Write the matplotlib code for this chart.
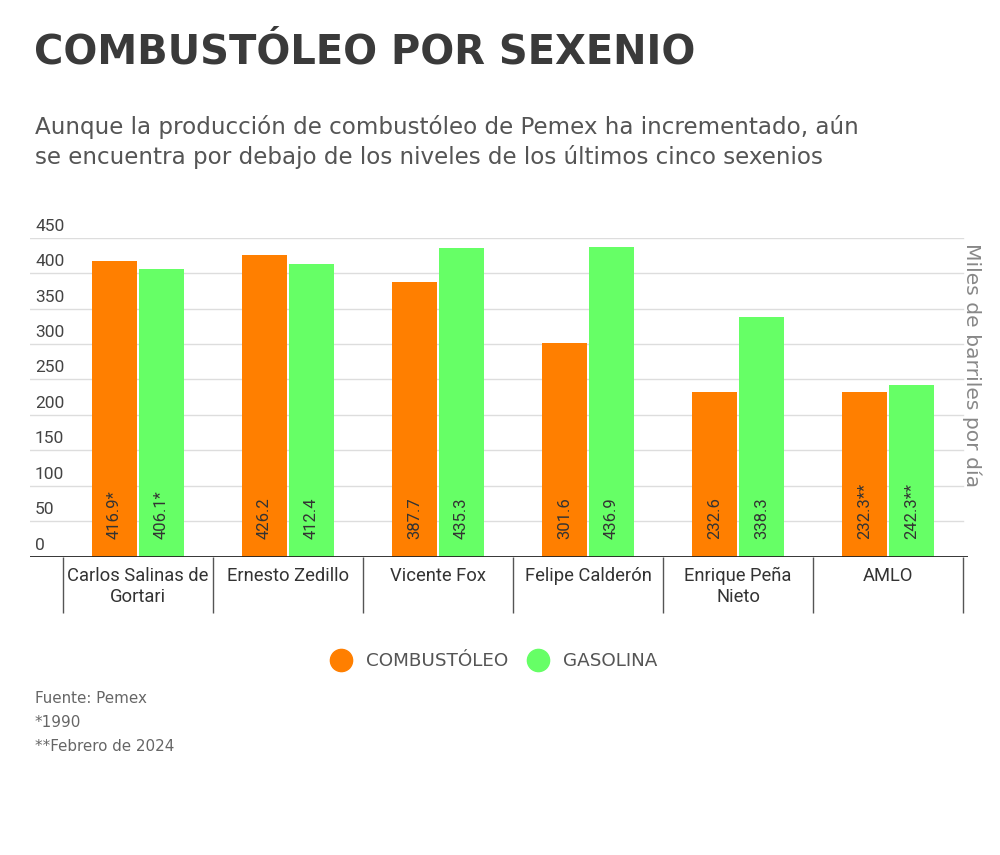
import matplotlib
matplotlib.use("Agg")
import matplotlib.pyplot as plt
from matplotlib.lines import Line2D
import matplotlib.transforms as mtransforms

categories = ["Carlos Salinas de\nGortari", "Ernesto Zedillo", "Vicente Fox",
              "Felipe Calderón", "Enrique Peña\nNieto", "AMLO"]
combustoleo = [416.9, 426.2, 387.7, 301.6, 232.6, 232.3]
gasolina = [406.1, 412.4, 435.3, 436.9, 338.3, 242.3]
comb_labels = ["416.9*", "426.2", "387.7", "301.6", "232.6", "232.3**"]
gas_labels = ["406.1*", "412.4", "435.3", "436.9", "338.3", "242.3**"]
yticks = [0, 50, 100, 150, 200, 250, 300, 350, 400, 450]

ORANGE = "#FF7F00"
GREEN = "#66FF66"
TXT = "#333333"

W, H = 1000, 855
fig = plt.figure(figsize=(W / 100, H / 100), dpi=100)
fig.patch.set_facecolor("white")

def fx(px):
    return px / W

def fy(py):
    return 1 - py / H

left_px, right_px = 30, 968
top_px, bot_px = 237.7, 556.7
ax = fig.add_axes([fx(left_px), fy(bot_px), fx(right_px - left_px), (bot_px - top_px) / H])
ax.set_xlim(-0.72, 5.533)
ax.set_ylim(0, 450)
for s in ax.spines.values():
    s.set_visible(False)
ax.set_xticks([])
ax.set_yticks([])

tick_font = "Roboto"
wide_font = "DejaVu Sans"
# gridlines
for v in yticks[1:]:
    ax.axhline(v, color="#dddddd", lw=1, xmin=0, xmax=0.995, zorder=0)
ax.axhline(0, color="#222222", lw=2, zorder=3)

# tick labels above gridlines
for v in yticks:
    ax.annotate(str(v), xy=(-0.72, v), xytext=(5, 4), textcoords="offset pixels",
                ha="left", va="bottom", fontsize=12.5, color="#444444", family=tick_font)

x = list(range(len(categories)))
bw = 0.3
off = 0.157
ax.bar([i - off for i in x], combustoleo, width=bw, color=ORANGE, zorder=2)
ax.bar([i + off for i in x], gasolina, width=bw, color=GREEN, zorder=2)

for i in x:
    ax.annotate(comb_labels[i], xy=(i - off, 0), xytext=(0, 18), textcoords="offset pixels",
                rotation=90, ha="center", va="bottom", fontsize=12, color=TXT, family=tick_font)
    ax.annotate(gas_labels[i], xy=(i + off, 0), xytext=(0, 18), textcoords="offset pixels",
                rotation=90, ha="center", va="bottom", fontsize=12, color=TXT, family=tick_font)
    ax.annotate(categories[i], xy=(i, 0), xytext=(0, -10), textcoords="offset pixels",
                ha="center", va="top", fontsize=13.2, color=TXT, family=tick_font,
                linespacing=1.2, annotation_clip=False)

trans = mtransforms.blended_transform_factory(ax.transData, ax.transAxes)
sep_depth = -56 / (bot_px - top_px)
ax.vlines([i - 0.5 for i in range(len(categories) + 1)], sep_depth, 0,
          transform=trans, color="#555555", lw=1, clip_on=False)

fig.text(fx(972), fy(243), "Miles de barriles por día", rotation=270, ha="center", va="top",
         fontsize=14.6, color="#888888", family=wide_font)

fig.text(fx(34), fy(52), "COMBUSTÓLEO POR SEXENIO", ha="left", va="center",
         fontsize=28.8, fontweight="bold", color="#3a3a3a", family=wide_font)
fig.text(fx(35), fy(127), "Aunque la producción de combustóleo de Pemex ha incrementado, aún",
         ha="left", va="center", fontsize=16.6, color="#555555", family=wide_font)
fig.text(fx(35), fy(157), "se encuentra por debajo de los niveles de los últimos cinco sexenios",
         ha="left", va="center", fontsize=16.6, color="#555555", family=wide_font)

handles = [Line2D([], [], marker="o", ls="", markersize=16, color=ORANGE),
           Line2D([], [], marker="o", ls="", markersize=16, color=GREEN)]
fig.legend(handles, ["COMBUSTÓLEO", "GASOLINA"], loc="center", bbox_to_anchor=(0.49, fy(661)),
           ncol=2, frameon=False, handletextpad=0.4, columnspacing=0.6,
           prop={"family": wide_font, "size": 13.2}, labelcolor="#555555")

for txt, py in [("Fuente: Pemex", 698), ("*1990", 722), ("**Febrero de 2024", 746)]:
    fig.text(fx(35), fy(py), txt, ha="left", va="center", fontsize=10.9, color="#666666",
             family=wide_font)

fig.savefig("out.png", dpi=100, facecolor="white")
